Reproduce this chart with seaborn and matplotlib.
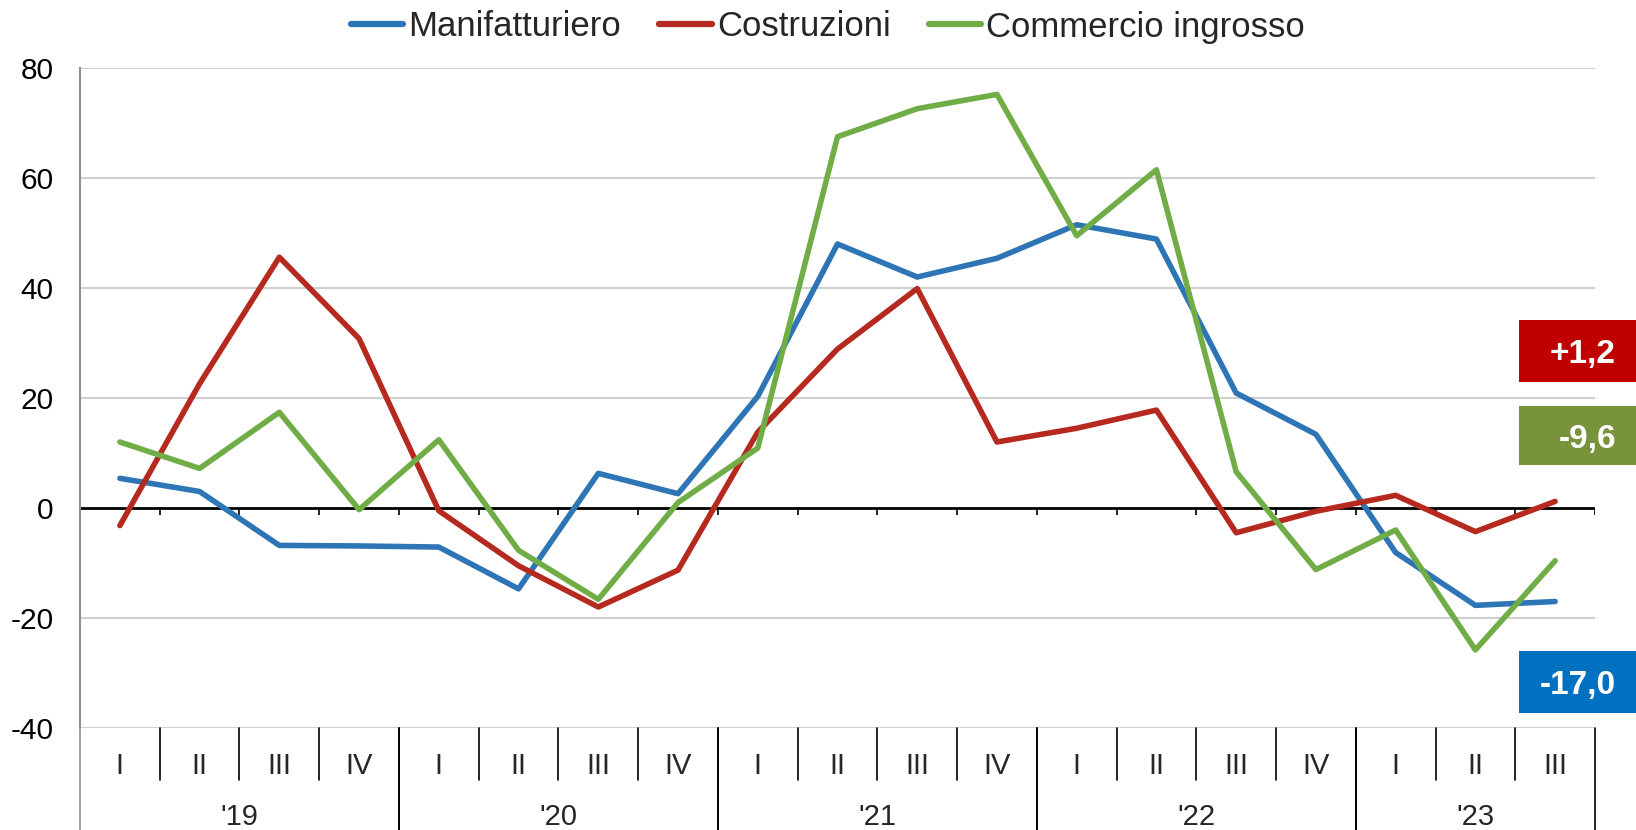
import numpy as np
import pandas as pd
import matplotlib
matplotlib.use("Agg")
import matplotlib.pyplot as plt
import matplotlib.transforms as mtransforms
from matplotlib.patches import Rectangle
import seaborn as sns

# ---------------- data ----------------
quarters = ["I", "II", "III", "IV"] * 4 + ["I", "II", "III"]
years = ["'19", "'20", "'21", "'22", "'23"]
year_sizes = [4, 4, 4, 4, 3]
series_names = ["Manifatturiero", "Costruzioni", "Commercio ingrosso"]
manifatturiero = [5.4, 3.0, -6.8, -6.9, -7.1, -14.7, 6.3, 2.6, 20.3, 48.0,
                  42.0, 45.4, 51.5, 48.9, 20.9, 13.4, -8.1, -17.7, -17.0]
costruzioni = [-3.2, 22.6, 45.6, 30.8, -0.5, -10.5, -18.0, -11.3, 13.8, 28.9,
               39.9, 12.0, 14.5, 17.8, -4.5, -0.6, 2.3, -4.3, 1.2]
commercio = [12.0, 7.2, 17.4, -0.3, 12.4, -7.7, -16.6, 1.0, 10.9, 67.5,
             72.6, 75.2, 49.5, 61.5, 6.6, -11.2, -4.0, -25.8, -9.6]
last_labels = ["+1,2", "-9,6", "-17,0"]   # Costruzioni, Commercio, Manifatturiero
yticks = [-40, -20, 0, 20, 40, 60, 80]

# ---------------- style ----------------
line_colors = ["#2E75B6", "#B5291F", "#70AD47"]
box_colors = ["#C00000", "#77933C", "#0070C0"]

sns.set_style("white")
plt.rcParams["font.family"] = ["Liberation Sans", "DejaVu Sans"]

W, H = 1636, 830
fig = plt.figure(figsize=(W / 100, H / 100), dpi=100)
ax_l, ax_r, ax_t, ax_b = 80, 1595, 68, 728
ax = fig.add_axes([ax_l / W, 1 - ax_b / H, (ax_r - ax_l) / W, (ax_b - ax_t) / H])

n = len(quarters)
pos = np.arange(n)
df = pd.DataFrame({
    "pos": np.tile(pos, 3),
    "value": manifatturiero + costruzioni + commercio,
    "serie": np.repeat(series_names, n),
})

sns.lineplot(data=df, x="pos", y="value", hue="serie", hue_order=series_names,
             palette=line_colors, linewidth=4.0, ax=ax, legend=True, zorder=3)
for l in ax.lines:
    l.set_solid_capstyle("round")
    l.set_solid_joinstyle("round")

ax.set_xlim(-0.5, n - 0.5)
ax.set_ylim(-40, 80)
ax.set_xlabel("")
ax.set_ylabel("")

# grid
ax.set_yticks(yticks)
ax.set_yticklabels([str(v) for v in yticks], fontsize=21.5)
for v in yticks:
    if v != 0:
        ax.axhline(v, color="#D0D0D0", lw=1.5, zorder=1)
ax.axhline(0, color="black", lw=2.0, zorder=2)
ax.tick_params(axis="y", direction="out", length=7, width=1.2, color="#909090",
               pad=12, labelcolor="black")
ax.set_xticks([])

for s in ["top", "right", "bottom"]:
    ax.spines[s].set_visible(False)
ax.spines["left"].set_color("#909090")
ax.spines["left"].set_linewidth(1.5)

# small ticks on zero line at category boundaries
bounds = np.arange(n + 1) - 0.5
ax.vlines(bounds[1:], -1.2, 0, color="black", lw=1.2, zorder=2)

# category axis below
trans = mtransforms.blended_transform_factory(ax.transData, ax.transAxes)
ph = ax_b - ax_t
q_sep = -(780 - ax_b) / ph
y_sep = -(H - ax_b) / ph - 0.01
for i, q in enumerate(quarters):
    ax.text(i, -(763 - ax_b) / ph, q, transform=trans, ha="center",
            va="center_baseline", fontsize=21)
year_starts = np.cumsum([0] + year_sizes)
for b in bounds[1:-1]:
    if int(b + 0.5) in year_starts:
        continue
    ax.plot([b, b], [0, q_sep], transform=trans, color="black", lw=1.2,
            clip_on=False)
for k, yr in enumerate(years):
    s0, s1 = year_starts[k], year_starts[k + 1]
    ax.text((s0 + s1 - 1) / 2, -(814 - ax_b) / ph, yr, transform=trans,
            ha="center", va="center_baseline", fontsize=21)
    for b in (s0 - 0.5, s1 - 0.5):
        ax.plot([b, b], [0, y_sep], transform=trans, color="black" if b > -0.5 else "#909090",
                lw=1.2, clip_on=False)

# legend
handles, labels = ax.get_legend_handles_labels()
ax.legend_.remove()
leg = fig.legend(handles, labels, loc="center", bbox_to_anchor=(828 / W, 1 - 27 / H),
                 ncol=3, frameon=False, fontsize=25, handlelength=1.5,
                 handletextpad=0.15, columnspacing=1.1)
for h in leg.legend_handles:
    h.set_linewidth(4.5)

# last-value boxes on the right
box_y = [(320, 382), (406, 465), (651, 713)]
for (y0, y1), col, txt in zip(box_y, box_colors, last_labels):
    fig.add_artist(Rectangle((1519 / W, 1 - y1 / H), (W - 1519) / W, (y1 - y0) / H,
                             transform=fig.transFigure, facecolor=col,
                             edgecolor="none"))
    fig.text(1616 / W, 1 - (y0 + y1) / 2 / H, txt, ha="right", va="center_baseline",
             color="white", fontsize=24, fontweight="bold")

fig.savefig("out.png", dpi=100)
